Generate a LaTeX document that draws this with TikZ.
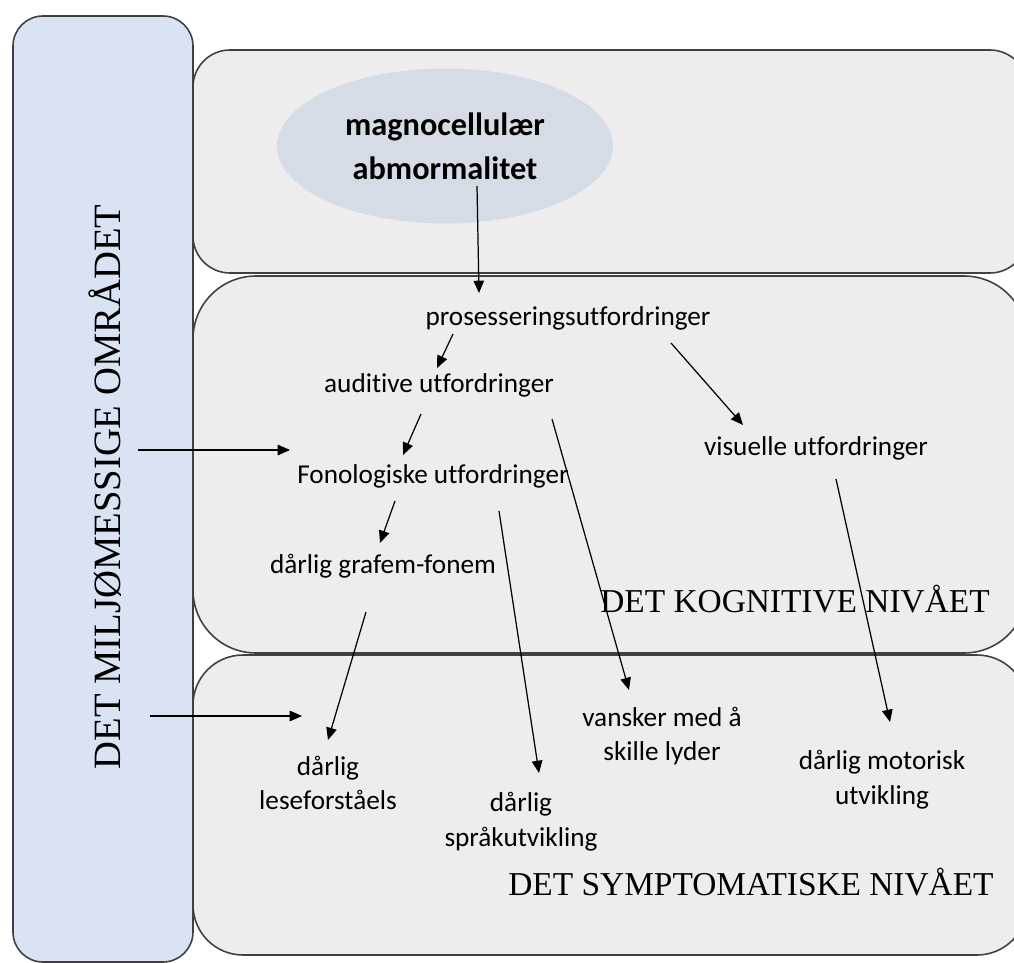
\documentclass[tikz,border=0pt]{standalone}
\usepackage{fontspec}
\setmainfont{Liberation Serif}
\newfontfamily\calfont[Ligatures=NoCommon]{Carlito}
\usetikzlibrary{shapes, arrows.meta, calc}
\definecolor{boxgray}{RGB}{237,237,237}
\definecolor{envblue}{RGB}{218,227,243}
\definecolor{ovalgray}{RGB}{214,220,229}
\definecolor{edgegray}{RGB}{64,64,64}

\begin{document}
\begin{tikzpicture}[x=0.02cm, y=-0.02cm,
    level/.style={draw=edgegray, 
      line width=0.9pt, 
      fill=boxgray},
    cause/.style={font=\calfont\fontsize{15.5}{19.8}\selectfont, 
      inner sep=0pt, 
      align=center},
    levelname/.style={font=\fontsize{19}{22}\selectfont, 
      inner sep=0pt, 
      anchor=base},
    link/.style={-{Triangle[length=7pt, width=6pt]}, 
      line width=0.7pt}]

  \useasboundingbox (0,0) rectangle (1014,963);
  \fill[white] (0,0) rectangle (1014,963);
  \clip (0,0) rectangle (1014,963);

% LEVELS

  \draw[level, fill=envblue, rounded corners=0.6cm] (13,16) rectangle (193,962);
  \draw[level, rounded corners=0.74cm] (193,50) rectangle (1027,273);
  \draw[level, rounded corners=1.26cm] (193,276) rectangle (1027,653);
  \draw[level, rounded corners=1.0cm] (193,655) rectangle (1027,955);

  \node [font=\fontsize{22}{26}\selectfont, 
    rotate=90, 
    anchor=base, 
    inner sep=0pt] (env) at (120,487) {DET MILJØMESSIGE OMRÅDET};

  \node [levelname] (cog) at (795,612) {DET KOGNITIVE NIVÅET};
  \node [levelname] (sym) at (751,895) {DET SYMPTOMATISKE NIVÅET};

% CAUSES

  \node [ellipse, 
    fill=ovalgray, 
    minimum width=6.72cm, 
    minimum height=3.1cm, 
    inner sep=0pt, 
    align=center, 
    font=\calfont\bfseries\fontsize{18.4}{25}\selectfont] (magno) at (445,146) {
    magnocellulær\\abmormalitet
  };

  \node [cause, anchor=base] (pros) at (568,325) {prosesseringsutfordringer};
  \node [cause, anchor=base] (aud) at (439,392) {auditive utfordringer};
  \node [cause, anchor=base] (vis) at (816,455) {visuelle utfordringer};
  \node [cause, anchor=base] (fon) at (433,483) {Fonologiske utfordringer};
  \node [cause, anchor=base] (graf) at (383,573) {dårlig grafem-fonem};

% SYMPTOMS

  \node [cause] (lese) at (328,783) {dårlig\\leseforståels};
  \node [cause] (spr) at (521,822) {dårlig\\språkutvikling};
  \node [cause] (vansk) at (662,736) {vansker med å\\skille lyder};
  \node [cause] (mot) at (882,780) {dårlig motorisk\\utvikling};

  \coordinate (envA) at (138,450);
  \coordinate (envB) at (150,716);

% LINKS

  \draw[link] ($(magno)+(32,40)$) -- ($(pros.base)+(-89,-32)$);
  \draw[link] ($(pros.base)+(-115,9)$) -- ($(aud.base)+(-2,-24)$);
  \draw[link] ($(pros.base)+(103,18)$) -- ($(vis.base)+(-73,-30)$);
  \draw[link] ($(aud.base)+(-18,22)$) -- ($(fon.base)+(-30,-28)$);
  \draw[link] ($(aud.base)+(113,27)$) -- ($(vansk)+(-33,-46)$);
  \draw[link] ($(fon.base)+(-38,18)$) -- ($(graf.base)+(-3,-30)$);
  \draw[link] ($(fon.base)+(66,28)$) -- ($(spr)+(18,-49)$);
  \draw[link] ($(graf.base)+(-17,39)$) -- ($(lese)+(0,-43)$);
  \draw[link] ($(vis.base)+(20,24)$) -- ($(mot)+(8,-58)$);
  \draw[link] (envA) -- ($(fon.base)+(-143,-33)$);
  \draw[link] (envB) -- ($(lese)+(-26,-67)$);

\end{tikzpicture}
\end{document}
